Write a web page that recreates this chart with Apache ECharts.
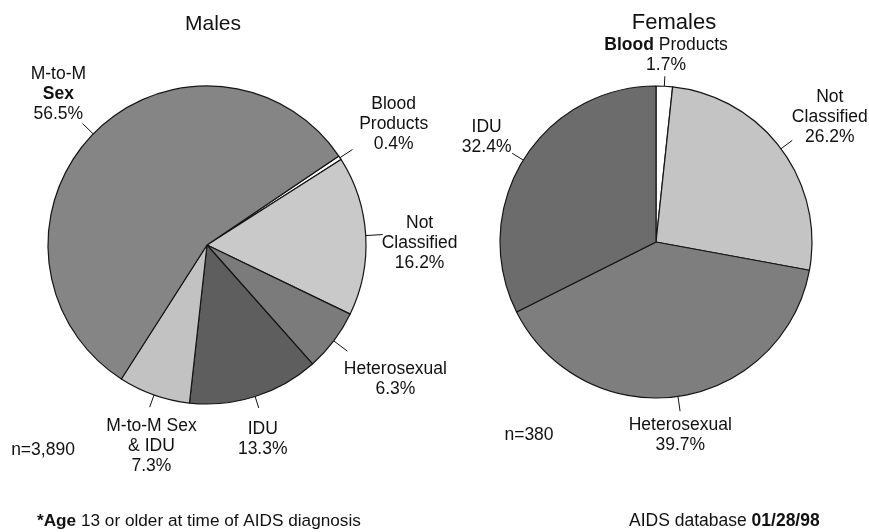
<!DOCTYPE html>
<html>
<head>
<meta charset="utf-8">
<script src="https://cdn.jsdelivr.net/npm/echarts@6/dist/echarts.min.js"></script>
<style>html,body{margin:0;padding:0;background:#fff}#c{width:869px;height:532px}</style>
</head>
<body>
<div id="c"></div>
<script>
// ---- data ----
const maleCategories = ['Blood Products', 'Not Classified', 'Heterosexual', 'IDU', 'M-to-M Sex & IDU', 'M-to-M Sex'];
const maleValues = [0.4, 16.2, 6.3, 13.3, 7.3, 56.5];
const maleLabelText = ['Blood\nProducts', 'Not\nClassified', 'Heterosexual', 'IDU', 'M-to-M Sex\n& IDU', 'M-to-M\n{b|Sex}'];
const maleN = 'n=3,890';

const femaleCategories = ['Blood Products', 'Not Classified', 'Heterosexual', 'IDU'];
const femaleValues = [1.7, 26.2, 39.7, 32.4];
const femaleLabelText = ['{b|Blood} Products', 'Not\nClassified', 'Heterosexual', 'IDU'];
const femaleN = 'n=380';

const titles = ['Males', 'Females'];
const footLeft = '{b|*Age} 13 or older at time of AIDS diagnosis';
const footRight = 'AIDS database {b|01/28/98}';

// ---- styles / layout ----
const FONT = '"Liberation Sans", Arial, Helvetica, sans-serif';
const maleColors = ['#ffffff', '#c9c9c9', '#7b7b7b', '#5e5e5e', '#c2c2c2', '#858585'];
const femaleColors = ['#ffffff', '#c4c4c4', '#7e7e7e', '#6c6c6c'];
const maleLineLen = [15, 17, 17, 12, 13, 15];
const femaleLineLen = [10, 14, 15, 13];
const maleNudge = [[5, -2], [-3, 11], [20, 7], [-3, 9], [13, 7], [5, -1]];
const femaleNudge = [[0, 1], [-2, 6], [-3, 2], [1, 0]];

function makeLabelLayout(nudge) {
  return function (p) {
    const pts = p.labelLinePoints;
    if (!pts) return {};
    const a = pts[0], e = pts[1];
    let ux = e[0] - a[0], uy = e[1] - a[1];
    const L = Math.hypot(ux, uy) || 1; ux /= L; uy /= L;
    const hw = p.labelRect.width / 2, hh = p.labelRect.height / 2;
    const tx = Math.abs(ux) > 1e-6 ? hw / Math.abs(ux) : Infinity;
    const ty = Math.abs(uy) > 1e-6 ? hh / Math.abs(uy) : Infinity;
    const t = Math.min(tx, ty) + 2;
    const n = nudge[p.dataIndex] || [0, 0];
    return {
      x: e[0] + ux * t + n[0],
      y: e[1] + uy * t + n[1],
      align: 'center',
      verticalAlign: 'middle',
      labelLinePoints: pts
    };
  };
}

function buildData(cats, vals, colors, lens) {
  return cats.map((c, i) => ({
    name: c,
    value: vals[i],
    itemStyle: { color: colors[i] },
    labelLine: { length: lens[i], length2: 0 }
  }));
}

function pieSeries(cats, vals, colors, lens, texts, nudge, center, radius, startAngle) {
  return {
    type: 'pie',
    center: center,
    radius: radius,
    startAngle: startAngle,
    clockwise: true,
    avoidLabelOverlap: false,
    animation: false,
    silent: true,
    data: buildData(cats, vals, colors, lens),
    itemStyle: { borderColor: '#151515', borderWidth: 1.2 },
    label: {
      show: true,
      position: 'outside',
      alignTo: 'none',
      color: '#111',
      fontFamily: FONT,
      fontSize: 17.5,
      lineHeight: 20,
      formatter: (p) => texts[p.dataIndex] + '\n' + p.value.toFixed(1) + '%',
      rich: { b: { fontWeight: 'bold', fontFamily: FONT, fontSize: 17.5, lineHeight: 20, color: '#111' } }
    },
    labelLine: { show: true, smooth: false, lineStyle: { color: '#111', width: 1 } },
    labelLayout: makeLabelLayout(nudge)
  };
}

const chart = echarts.init(document.getElementById('c'), null, { renderer: 'canvas' });
chart.setOption({
  backgroundColor: '#ffffff',
  animation: false,
  title: [
    { text: titles[0], left: 208, top: 9, textAlign: 'center', textStyle: { fontFamily: FONT, fontSize: 21, fontWeight: 'normal', color: '#111' } },
    { text: titles[1], left: 669, top: 7, textAlign: 'center', textStyle: { fontFamily: FONT, fontSize: 22, fontWeight: 'normal', color: '#111' } }
  ],
  series: [
    pieSeries(maleCategories, maleValues, maleColors, maleLineLen, maleLabelText, maleNudge, [207, 245], 159, 34.0),
    pieSeries(femaleCategories, femaleValues, femaleColors, femaleLineLen, femaleLabelText, femaleNudge, [656, 242], 156, 90)
  ],
  graphic: [
    { type: 'text', x: 43, y: 450, style: { text: maleN, fill: '#111', fontFamily: FONT, fontSize: 17.5, align: 'center', verticalAlign: 'middle' } },
    { type: 'text', x: 529, y: 435, style: { text: femaleN, fill: '#111', fontFamily: FONT, fontSize: 17.5, align: 'center', verticalAlign: 'middle' } },
    { type: 'text', x: 37, y: 521, style: { text: footLeft, fill: '#111', fontFamily: FONT, fontSize: 17.2, align: 'left', verticalAlign: 'middle', rich: { b: { fontWeight: 'bold', fontFamily: FONT, fontSize: 17.2, fill: '#111' } } } },
    { type: 'text', x: 629, y: 521, style: { text: footRight, fill: '#111', fontFamily: FONT, fontSize: 17.5, align: 'left', verticalAlign: 'middle', rich: { b: { fontWeight: 'bold', fontFamily: FONT, fontSize: 17.5, fill: '#111' } } } }
  ]
});
</script>
</body>
</html>
